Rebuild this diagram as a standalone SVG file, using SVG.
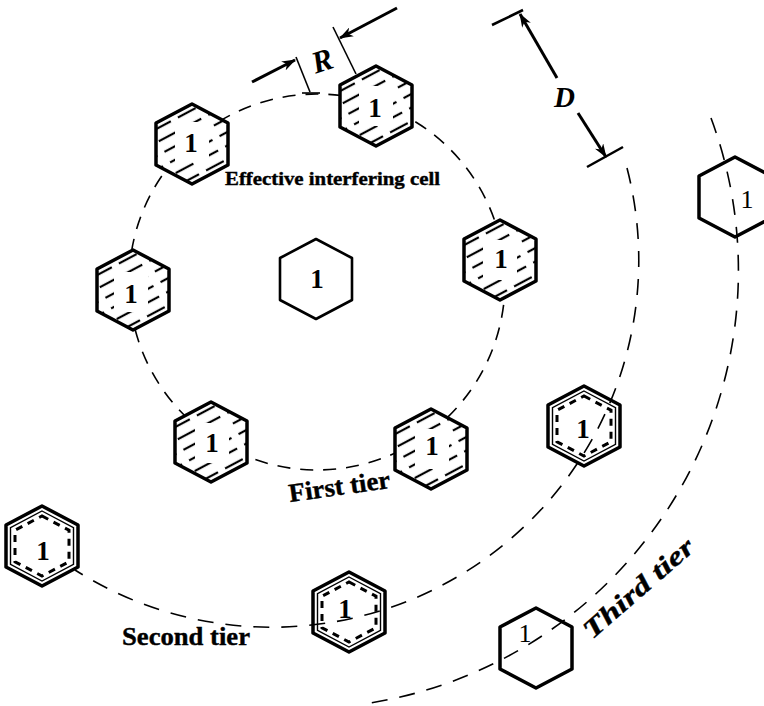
<svg xmlns="http://www.w3.org/2000/svg" width="764" height="706" viewBox="0 0 764 706">
<style>
.hw{fill:#fff;stroke:none}
.hh{fill:url(#hatch);stroke:none}
.ho{fill:none;stroke:#000;stroke-width:3.5;stroke-linejoin:round}
.hc{fill:#fff;stroke:#000;stroke-width:2.6;stroke-linejoin:round}
.hi{fill:none;stroke:#000;stroke-width:1.4}
.hd{fill:none;stroke:#000;stroke-width:3;stroke-dasharray:7 6}
.num{font-family:"Liberation Serif",serif;font-weight:bold;font-size:27px;text-anchor:middle;fill:#000}
.numl{font-family:"Liberation Serif",serif;font-size:26px;text-anchor:middle;fill:#000}
.d1{fill:none;stroke:#000;stroke-width:1.6;stroke-dasharray:13 10}
.d2{fill:none;stroke:#000;stroke-width:1.6;stroke-dasharray:16 12}
.dim{stroke:#000;stroke-width:3;fill:none}
.ext{stroke:#000;stroke-width:1.6;fill:none}
.lbl{font-family:"Liberation Serif",serif;font-weight:bold;fill:#000;stroke:#000;stroke-width:0.4}
.it{font-family:"Liberation Serif",serif;font-style:italic;font-weight:bold;fill:#000}
</style>
<defs>
<polygon id="hx" points="0,-40 36,-21 36,21 0,40 -36,21 -36,-21"/>
<polygon id="hxi" points="0,-35 31.5,-18.4 31.5,18.4 0,35 -31.5,18.4 -31.5,-18.4"/>
<polygon id="hxd" points="0,-30 27,-15.8 27,15.8 0,30 -27,15.8 -27,-15.8"/>
<pattern id="hatch" patternUnits="userSpaceOnUse" width="28" height="12" patternTransform="rotate(-28)">
<line x1="0" y1="6" x2="20" y2="6" stroke="#000" stroke-width="2.2"/>
</pattern>
<marker id="ah" viewBox="0 0 14 10" refX="13" refY="5" markerWidth="14" markerHeight="10" markerUnits="userSpaceOnUse" orient="auto">
<path d="M0,0 L14,5 L0,10 L4,5z" fill="#000"/>
</marker>
</defs>
<rect width="764" height="706" fill="#fff"/>

<g id="connectors">
<circle id="first-tier-ring" class="d1" cx="317" cy="282" r="188"/>
<path id="second-tier-arc" class="d2" d="M627,168 A367,367 0 0 1 75,570"/>
<path id="third-tier-arc" class="d2" d="M711,118 A438,438 0 0 1 370,703"/>
</g>

<g id="dimensions">
<line class="dim" x1="252" y1="82" x2="295" y2="60" marker-end="url(#ah)"/>
<line class="ext" x1="296" y1="57" x2="310" y2="92"/>
<line class="ext" x1="302" y1="93" x2="320" y2="93"/>
<line class="dim" x1="397" y1="8" x2="340" y2="38" marker-end="url(#ah)"/>
<line class="ext" x1="333" y1="27" x2="356" y2="74"/>
<line class="dim" x1="557" y1="78" x2="520" y2="14" marker-end="url(#ah)"/>
<line class="ext" x1="492" y1="25" x2="523" y2="10" style="stroke-width:2.5"/>
<line class="dim" x1="578" y1="113" x2="606" y2="157" marker-end="url(#ah)"/>
<line class="ext" x1="587" y1="167" x2="623" y2="147" style="stroke-width:2.5"/>
</g>

<g id="cell-center" transform="translate(316,279)">
<use href="#hx" class="hc"/>
<text class="num" x="1" y="9">1</text>
</g>

<g id="cell-h1" transform="translate(192,144)">
<use href="#hx" class="hw"/><use href="#hx" class="hh"/>
<rect x="-17" y="-22" width="34" height="40" fill="#fff"/>
<use href="#hx" class="ho"/>
<text class="num" x="-1" y="8">1</text>
</g>
<g id="cell-h2" transform="translate(376,106)">
<use href="#hx" class="hw"/><use href="#hx" class="hh"/>
<rect x="-17" y="-20" width="34" height="40" fill="#fff"/>
<use href="#hx" class="ho"/>
<text class="num" x="-1" y="11">1</text>
</g>
<g id="cell-h3" transform="translate(500,260)">
<use href="#hx" class="hw"/><use href="#hx" class="hh"/>
<rect x="-17" y="-20" width="34" height="40" fill="#fff"/>
<use href="#hx" class="ho"/>
<text class="num" x="1" y="8">1</text>
</g>
<g id="cell-h4" transform="translate(133,290)">
<use href="#hx" class="hw"/><use href="#hx" class="hh"/>
<rect x="-19" y="-18" width="34" height="40" fill="#fff"/>
<use href="#hx" class="ho"/>
<text class="num" x="-2" y="13">1</text>
</g>
<g id="cell-h5" transform="translate(211,442)">
<use href="#hx" class="hw"/><use href="#hx" class="hh"/>
<rect x="-16" y="-19" width="34" height="40" fill="#fff"/>
<use href="#hx" class="ho"/>
<text class="num" x="1" y="10">1</text>
</g>
<g id="cell-h6" transform="translate(431,449)">
<use href="#hx" class="hw"/><use href="#hx" class="hh"/>
<rect x="-16" y="-20" width="34" height="40" fill="#fff"/>
<use href="#hx" class="ho"/>
<text class="num" x="1" y="6">1</text>
</g>

<g id="cell-s1" transform="translate(584,426)">
<use href="#hx" class="ho"/><use href="#hxi" class="hi"/><use href="#hxd" class="hd"/>
<text class="num" x="-1" y="12">1</text>
</g>
<g id="cell-s2" transform="translate(42,546)">
<use href="#hx" class="ho"/><use href="#hxi" class="hi"/><use href="#hxd" class="hd"/>
<text class="num" x="1" y="14">1</text>
</g>
<g id="cell-s3" transform="translate(349,612)">
<use href="#hx" class="ho"/><use href="#hxi" class="hi"/><use href="#hxd" class="hd"/>
<text class="num" x="-4" y="6">1</text>
</g>

<g id="cell-t1" transform="translate(536,648)">
<use href="#hx" class="ho"/>
<text class="numl" x="-11" y="-6">1</text>
</g>
<g id="cell-t2" transform="translate(735,197)">
<use href="#hx" class="ho"/>
<text class="numl" x="12" y="11">1</text>
</g>

<g id="labels">
<text class="lbl" x="225" y="185" font-size="18" textLength="215" lengthAdjust="spacingAndGlyphs">Effective interfering cell</text>
<text class="lbl" x="290" y="502" font-size="26" textLength="102" lengthAdjust="spacingAndGlyphs" transform="rotate(-8 290 502)">First tier</text>
<text class="lbl" x="122" y="645" font-size="26" textLength="128" lengthAdjust="spacingAndGlyphs">Second tier</text>
<text class="lbl" font-style="italic" x="592" y="640" font-size="26" textLength="138" lengthAdjust="spacingAndGlyphs" transform="rotate(-41 592 640)">Third tier</text>
<text class="it" x="311" y="71" font-size="31" transform="rotate(-18 322 58)">R</text>
<text class="it" x="554" y="107" font-size="29">D</text>
</g>
</svg>
